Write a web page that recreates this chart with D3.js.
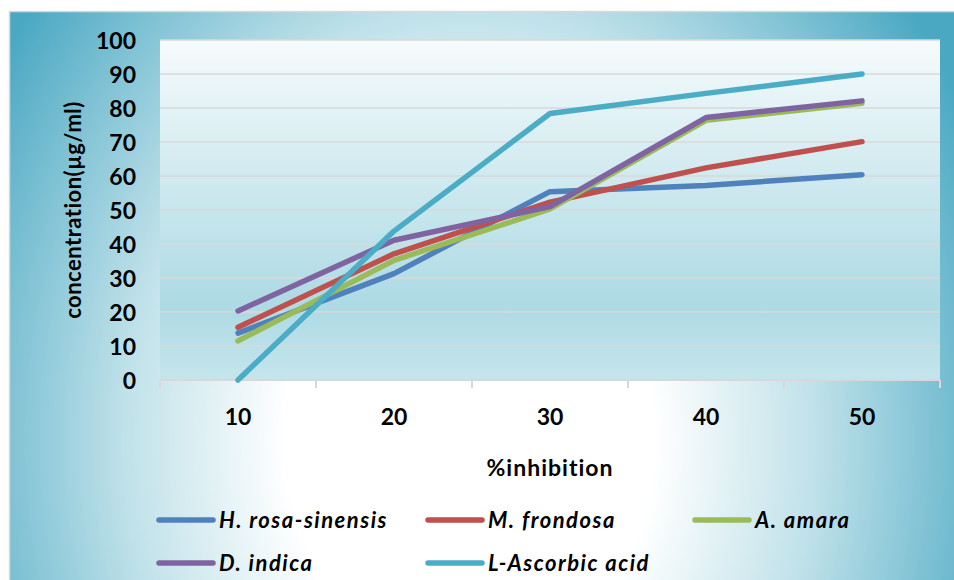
<!DOCTYPE html>
<html>
<head>
<meta charset="utf-8">
<script src="https://cdn.jsdelivr.net/npm/d3@7"></script>
<style>
  html, body { margin: 0; padding: 0; background: #fff; }
  svg { display: block; font-family: Lato, "Open Sans", sans-serif; }
</style>
</head>
<body>
<div id="chart"></div>
<script>
// categories on the x axis (%inhibition)
const categories = ["10", "20", "30", "40", "50"];
const yTicks = [0, 10, 20, 30, 40, 50, 60, 70, 80, 90, 100];

// series values, concentration in µg/ml
const seriesNames = ["H. rosa-sinensis", "M. frondosa", "A. amara", "D. indica", "L-Ascorbic acid"];
const hRosa     = [13.8, 31.3, 55.4, 57.2, 60.4];
const mFrondosa = [15.5, 37.1, 52.3, 62.4, 70.1];
const aAmara    = [11.5, 35.2, 50.3, 76.4, 81.4];
const dIndica   = [20.3, 41.1, 51.0, 77.2, 82.1];
const ascorbic  = [0.0, 43.8, 78.4, 84.3, 90.0];
const colors = ["#4f81bd", "#c0504d", "#9bbb59", "#8064a2", "#4bacc6"];

const series = [hRosa, mFrondosa, aAmara, dIndica, ascorbic].map((vals, i) => ({
  name: seriesNames[i],
  color: colors[i],
  values: vals
}));

const width = 954;
const height = 580;
const margin = { top: 40, right: 14, bottom: 200, left: 160 };
const contentWidth = width - margin.left - margin.right;
const contentHeight = height - margin.top - margin.bottom;

const svg = d3.select("#chart")
  .append("svg")
  .attr("width", width)
  .attr("height", height);

const defs = svg.append("defs");

// outer background: bluish edges, white toward lower middle
const bg = defs.append("radialGradient")
  .attr("id", "bgGrad")
  .attr("gradientUnits", "userSpaceOnUse")
  .attr("cx", 470).attr("cy", 440).attr("r", 560)
  .attr("gradientTransform", "translate(470,440) scale(1,1.25) translate(-470,-440)");
bg.append("stop").attr("offset", 0).attr("stop-color", "#ffffff");
bg.append("stop").attr("offset", 0.33).attr("stop-color", "#ffffff");
bg.append("stop").attr("offset", 0.62).attr("stop-color", "#bfe1e9");
bg.append("stop").attr("offset", 1).attr("stop-color", "#4aa8c3");

// plot area gradient
const pg = defs.append("linearGradient")
  .attr("id", "plotGrad")
  .attr("x1", 0).attr("y1", 0).attr("x2", 0).attr("y2", 1);
pg.append("stop").attr("offset", 0).attr("stop-color", "#f6fbfc");
pg.append("stop").attr("offset", 0.78).attr("stop-color", "#addae4");
pg.append("stop").attr("offset", 1).attr("stop-color", "#c5e5ec");

svg.append("rect")
  .attr("x", 9.5).attr("y", 11.5)
  .attr("width", width).attr("height", height)
  .attr("fill", "url(#bgGrad)")
  .attr("stroke", "#d9d9d9")
  .attr("stroke-width", 1.5);

const g = svg.append("g")
  .attr("transform", `translate(${margin.left}, ${margin.top})`);

g.append("rect")
  .attr("width", contentWidth)
  .attr("height", contentHeight)
  .attr("fill", "url(#plotGrad)");

// scales
const xScale = d3.scaleBand().domain(categories).range([0, contentWidth]);
const yScale = d3.scaleLinear().domain([0, 100]).range([contentHeight, 0]);

// gridlines
g.append("g")
  .selectAll("line")
  .data(yTicks.filter(t => t > 0))
  .enter().append("line")
  .attr("x1", 0).attr("x2", contentWidth)
  .attr("y1", d => yScale(d)).attr("y2", d => yScale(d))
  .attr("stroke", "#d8d8d8")
  .attr("stroke-width", 1.5);

// y axis (labels only)
const yAxis = d3.axisLeft(yScale).tickValues(yTicks).tickSize(0).tickPadding(24);
const gY = g.append("g").call(yAxis);
gY.select(".domain").remove();
gY.selectAll("text")
  .attr("font-family", "Lato, sans-serif")
  .attr("font-weight", "bold")
  .attr("font-size", 23)
  .attr("fill", "#000")
  .attr("dy", "0.36em");

// x axis with ticks between categories
const gX = g.append("g")
  .attr("transform", `translate(0, ${contentHeight})`);
gX.append("line")
  .attr("x1", 0).attr("x2", contentWidth)
  .attr("stroke", "#d8d8d8").attr("stroke-width", 2);
gX.selectAll(".tick-mark")
  .data(categories.concat(["end"]))
  .enter().append("line")
  .attr("class", "tick-mark")
  .attr("x1", (d, i) => i * xScale.step())
  .attr("x2", (d, i) => i * xScale.step())
  .attr("y1", 0).attr("y2", 8)
  .attr("stroke", "#d8d8d8").attr("stroke-width", 2);
gX.selectAll(".xlabel")
  .data(categories)
  .enter().append("text")
  .attr("class", "xlabel")
  .attr("x", d => xScale(d) + xScale.bandwidth() / 2)
  .attr("y", 37)
  .attr("text-anchor", "middle")
  .attr("font-weight", "bold")
  .attr("font-size", 23)
  .attr("fill", "#000")
  .attr("dy", "0.36em")
  .text(d => d);

// axis titles
g.append("text")
  .attr("x", contentWidth / 2)
  .attr("y", contentHeight + 88)
  .attr("text-anchor", "middle")
  .attr("dy", "0.36em")
  .attr("font-weight", "bold")
  .attr("font-size", 23)
  .attr("letter-spacing", 1)
  .text("%inhibition");

g.append("text")
  .attr("transform", `translate(-87, ${contentHeight / 2}) rotate(-90)`)
  .attr("text-anchor", "middle")
  .attr("dy", "0.36em")
  .attr("font-weight", "bold")
  .attr("font-size", 22)
  .attr("letter-spacing", 0.5)
  .text("concentration(µg/ml)");

// lines
const line = d3.line()
  .x((d, i) => xScale(categories[i]) + xScale.bandwidth() / 2)
  .y(d => yScale(d));

g.selectAll(".series")
  .data(series)
  .enter().append("path")
  .attr("class", "series")
  .attr("d", d => line(d.values))
  .attr("fill", "none")
  .attr("stroke", d => d.color)
  .attr("stroke-width", 5.5)
  .attr("stroke-linecap", "round")
  .attr("stroke-linejoin", "round");

// legend
const legendCols = [159, 428, 695];
const legendRows = [520, 563];
const legend = svg.append("g");
const items = legend.selectAll(".legend-item")
  .data(series)
  .enter().append("g")
  .attr("class", "legend-item")
  .attr("transform", (d, i) => `translate(${legendCols[i % 3]}, ${legendRows[Math.floor(i / 3)]})`);
items.append("line")
  .attr("x1", 0).attr("x2", 54)
  .attr("stroke", d => d.color)
  .attr("stroke-width", 5.5)
  .attr("stroke-linecap", "round");
items.append("text")
  .attr("x", 60)
  .attr("dy", "0.36em")
  .attr("font-weight", "bold")
  .attr("font-style", "italic")
  .attr("font-size", 22)
  .attr("letter-spacing", 1.5)
  .text(d => d.name);
</script>
</body>
</html>
